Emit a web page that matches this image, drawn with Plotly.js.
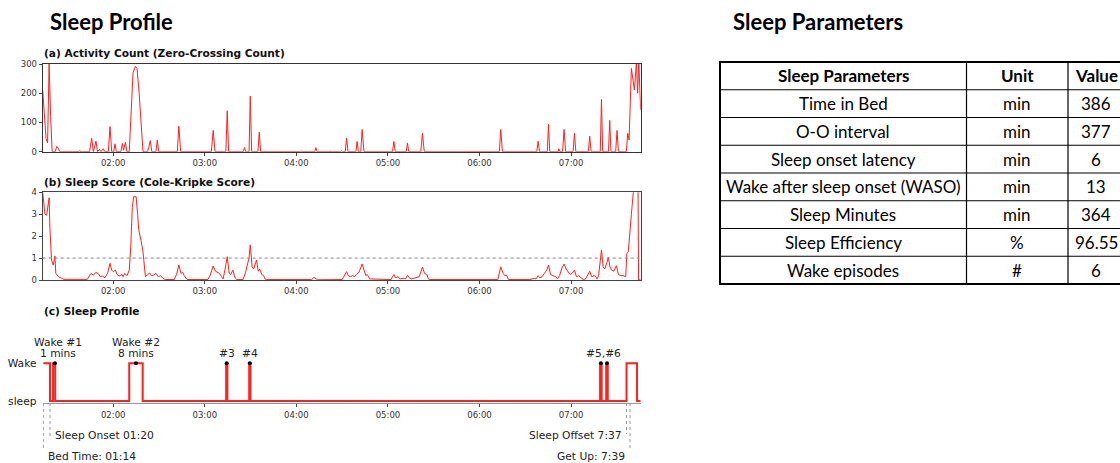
<!DOCTYPE html>
<html>
<head>
<meta charset="utf-8">
<script src="https://cdn.plot.ly/plotly-3.0.1.min.js"></script>
<style>
html,body{margin:0;padding:0;background:#fff;overflow:hidden;width:1120px;height:463px;}
#chart{width:1150px;height:463px;}
</style>
</head>
<body>
<div id="chart"></div>
<script>
// ---------- data (times in minutes after midnight) ----------
const activityTimes = [73.8,75,76,77,78,79,80, 82,83,84,85, 97,98,99,
  104.5,105.9,107,108.7,109.7,111,112,113.5,114.5,116.8,117.9,119,120.3,121.2,122,
  125,126,126.8,128,129, 130.5,133,134.5,135.6,137,139.5,
  142.5,143.3,144.3,145.3, 148,148.9,149.8, 162,163,164.2, 184.3,185.5,186.7,
  193.8,194.7,195.6, 205.2,206,206.8, 209,209.8,210.7, 214.8,215.7,216.6,
  242.8,243.5,244.2, 252,252.8,253.6, 261.3,262,262.7, 269,269.6,270.2,
  272,272.9,273.8, 279,279.8,280.6, 282.2,283.1,284.3, 303,303.9,304.8,
  312,312.8,313.6, 321.5,322.6,323.8, 373,373.9,375, 397.5,398.4,399.3,
  404.4,405.2,406, 411.5,412,412.6, 414.4,415.4,416.4, 421.3,422.2,423.1,
  431.3,432.2,433.1, 439.1,439.9,440.7, 444.5,445.3,446.1, 449.2,450.1,451,
  456.2,457.1,458,459.5,461.5,462.8,463.6,464.3,465.6];
const activityCounts = [210,120,45,30,300,120,0, 0,18,12,0, 0,3,0,
  0,46,0,36,0,8,0,10,0,0,86,0,0,27,0,
  0,28,5,32,0, 0,270,292,285,200,0,
  0,15,38,0, 0,40,0, 0,87,0, 0,73,0,
  0,140,0, 0,14,0, 0,190,0, 0,67,0,
  0,2,0, 0,14,0, 0,2,0, 0,3,0,
  0,46,0, 0,35,0, 0,76,0, 0,35,0,
  0,30,0, 0,63,0, 0,76,0, 0,36,0,
  0,94,0, 0,10,0, 0,76,0, 0,63,0,
  0,53,0, 0,179,0, 0,107,0, 0,73,0,
  0,63,40,285,211,310,200,310,143];

const scoreTimes = [73.8,75.3,76.4,77.5,78,78.5,79.6,80.7,81.8,82.4,84.3,86,87.6,
  103,104,105.4,107,108.6,110.4,111.5,113,114.5,116.3,117.9,119,120,121.5,122.5,124,125.7,126.5,127.5,129.1,
  130.5,131.5,132.5,133.4,135,136,136.7,138.2,139.5,141.1,142.5,143.9,145,146.5,148,149.5,151,152.5,154,
  160,161.5,163,164.5,165.5,166.5,168,169,
  182,183.5,185.5,187,188,189.6,191,192,193.3,194.7,196,197,198.4,199.8,201,
  205,206.5,207.5,209,209.8,211,212,213.9,215,216,217.3,218.5,219.5,220.6,
  250,251.5,253,254,
  270,271.5,272.9,274,275.5,277,278,279.4,281,283.1,284.5,285.5,286.5,288,
  302,303.9,305,306.5,308,310,311.5,312.8,314,315.5,320.5,322.6,324,325.5,326.5,327.5,
  372,373.9,375.5,376.5,377.7,379,
  393,396,397,398.4,399.5,401,402.5,404,405.2,406.5,408,410,411,412.5,414,415.4,416.8,418,419.3,420.5,
  422.2,423.5,425,426.5,428,429.5,431,432.2,433.5,435,436.2,437,438,439.9,441,442,443.5,444.4,445.5,
  446.5,448,449.7,451,452.5,454,455.8,456.5,457.5,459.5,460.5,462,463.8,464.2,465.6];
const scoreValues = [4.0,3.0,2.95,3.6,3.75,2.4,0.9,0.68,1.1,0.3,0.15,0.08,0.03,
  0.03,0.15,0.3,0.22,0.35,0.28,0.15,0.18,0.1,0.3,0.76,0.45,0.38,0.45,0.25,0.18,0.25,0.15,0.3,0.2,
  0.45,1.5,3.3,3.8,3.8,3.0,2.3,1.8,1.3,0.15,0.25,0.32,0.2,0.22,0.3,0.15,0.2,0.08,0.02,
  0.02,0.25,0.68,0.3,0.35,0.2,0.05,0.02,
  0.02,0.2,0.64,0.4,0.35,0.3,0.15,0.05,0.5,1.06,0.3,0.25,0.45,0.1,0.02,
  0.02,0.3,0.55,1.0,1.6,0.6,0.5,0.91,0.4,0.5,0.25,0.2,0.05,0.02,
  0.02,0.12,0.05,0.01,
  0.02,0.2,0.38,0.2,0.15,0.2,0.15,0.25,0.35,0.73,0.4,0.2,0.25,0.05,
  0.02,0.25,0.1,0.15,0.05,0.08,0.05,0.22,0.1,0.05,0.15,0.58,0.3,0.25,0.05,0.02,
  0.02,0.6,0.3,0.2,0.22,0.02,
  0.02,0.08,0.05,0.2,0.1,0.15,0.3,0.45,0.68,0.25,0.2,0.15,0.05,0.2,0.55,0.73,0.5,0.4,0.25,0.3,
  0.45,0.15,0.2,0.1,0.02,0.05,0.25,0.4,0.15,0.2,0.15,0.05,0.2,1.37,0.6,0.5,0.8,1.03,0.6,
  0.45,0.4,0.65,0.25,0.2,0.2,0.15,1.2,1.3,3.0,4.0,5.0,5.0,0,0];
const scoreThreshold = 1;

// sleep profile: state changes (1 = Wake, 0 = sleep)
const profileTimes  = [74.2,78.6,80.6,82.0,130.5,139.3,194.0,194.8,209.1,209.9,439.0,440.0,443.0,444.0,456.3,463.2,465.6];
const profileStates = [1,0,1,0,1,0,1,0,1,0,1,0,1,0,1,0,0];
const wakeDotTimes = [81.8,134.9,194.4,209.5,439.5,443.5];
const wakeLabelTimes = [83.5,134.9,194.4,209.5,441.0];
const wakeLabelTop = ["Wake #1","Wake #2","","",""];
const wakeLabelBottom = ["1 mins","8 mins","#3","#4","#5,#6"];
const eventTimes  = [74.2,78.6,456.3,458.6];
const eventLabels = ["Bed Time: 01:14","Sleep Onset 01:20","Sleep Offset 7:37","Get Up: 7:39"];

const paramNames  = ["Time in Bed","O-O interval","Sleep onset latency","Wake after sleep onset (WASO)","Sleep Minutes","Sleep Efficiency","Wake episodes"];
const paramUnits  = ["min","min","min","min","min","%","#"];
const paramValues = ["386","377","6","13","364","96.55","6"];
const tableHeader = ["Sleep Parameters","Unit","Value"];

// ---------- helpers ----------
const W = 1150, H = 463;
const px = x => x / W;
const py = y => 1 - y / H;
const pad = n => String(n).padStart(2, '0');
function ts(m) {
  const s = Math.round(m * 60);
  return '2024-01-01 ' + pad(Math.floor(s / 3600)) + ':' + pad(Math.floor((s % 3600) / 60)) + ':' + pad(s % 60);
}
const FONT = 'DejaVu Sans';
const RED = '#ff2020';

const xCommon = {
  type: 'date', range: [ts(73.8), ts(465.6)], tickformat: '%H:%M',
  dtick: 3600000, tick0: '2024-01-01 02:00:00', ticks: 'outside', ticklen: 3,
  tickcolor: '#444', tickfont: {family: FONT, size: 8.5, color: '#333'},
  showgrid: false, zeroline: false
};

const traces = [
  {x: activityTimes.map(ts), y: activityCounts, xaxis: 'x', yaxis: 'y', type: 'scatter', mode: 'lines',
   line: {color: RED, width: 1}},
  {x: scoreTimes.map(ts), y: scoreValues, xaxis: 'x2', yaxis: 'y2', type: 'scatter', mode: 'lines',
   line: {color: RED, width: 1}},
  {x: profileTimes.map(ts), y: profileStates, xaxis: 'x3', yaxis: 'y3', type: 'scatter', mode: 'lines',
   line: {color: RED, width: 2, shape: 'hv'}},
  {x: wakeDotTimes.map(ts), y: wakeDotTimes.map(() => 1), xaxis: 'x3', yaxis: 'y3', type: 'scatter', mode: 'markers',
   marker: {color: '#000', size: 4}, cliponaxis: false}
];

const annotations = [
  {text: '<b>Sleep Profile</b>', x: px(48), y: py(21), xref: 'paper', yref: 'paper', xanchor: 'left', yanchor: 'middle',
   showarrow: false, font: {family: 'Lato', size: 22, color: '#000'}},
  {text: '<b>Sleep Parameters</b>', x: px(731), y: py(21), xref: 'paper', yref: 'paper', xanchor: 'left', yanchor: 'middle',
   showarrow: false, font: {family: 'Lato', size: 22, color: '#000'}},
  {text: '<b>(a) Activity Count (Zero-Crossing Count)</b>', x: px(42), y: py(53), xref: 'paper', yref: 'paper',
   xanchor: 'left', yanchor: 'middle', showarrow: false, font: {family: FONT, size: 10.6, color: '#111'}},
  {text: '<b>(b) Sleep Score (Cole-Kripke Score)</b>', x: px(42), y: py(182), xref: 'paper', yref: 'paper',
   xanchor: 'left', yanchor: 'middle', showarrow: false, font: {family: FONT, size: 10.6, color: '#111'}},
  {text: '<b>(c) Sleep Profile</b>', x: px(42), y: py(311), xref: 'paper', yref: 'paper',
   xanchor: 'left', yanchor: 'middle', showarrow: false, font: {family: FONT, size: 10.6, color: '#111'}}
];
wakeLabelTimes.forEach((t, i) => {
  if (wakeLabelTop[i]) annotations.push({text: wakeLabelTop[i], x: ts(t), y: 1, xref: 'x3', yref: 'y3',
    yanchor: 'middle', yshift: 21, showarrow: false, font: {family: FONT, size: 10.7, color: '#222'}});
  annotations.push({text: wakeLabelBottom[i], x: ts(t), y: 1, xref: 'x3', yref: 'y3',
    yanchor: 'middle', yshift: 10, showarrow: false, font: {family: FONT, size: 10.7, color: '#222'}});
});
const eventLabelY = [456, 435.5, 435.5, 456];
const eventLineEnd = [451, 439, 434, 451];
const shapes = [
  {type: 'line', xref: 'paper', yref: 'y2', x0: px(42.7), x1: px(640.7), y0: scoreThreshold, y1: scoreThreshold,
   line: {color: '#888', width: 1, dash: 'dot'}}
];
eventTimes.forEach((t, i) => {
  const right = i >= 2;
  annotations.push({text: eventLabels[i], x: ts(t), y: py(eventLabelY[i]), xref: 'x3', yref: 'paper',
    xanchor: right ? 'right' : 'left', yanchor: 'middle', xshift: right ? -4 : 4, showarrow: false,
    borderpad: 0, font: {family: FONT, size: 10.7, color: '#222'}});
  shapes.push({type: 'line', xref: 'x3', yref: 'paper', x0: ts(t), x1: ts(t), y0: py(403), y1: py(eventLineEnd[i]),
    line: {color: '#999', width: 1, dash: 'dot'}});
});

// ---------- table (grid + text built from the arrays) ----------
const colEdges = [720, 966.5, 1068, 1124];
const tableTop = 62, rowH = 27.75;
const tableRows = [tableHeader].concat(paramNames.map((n, i) => [n, paramUnits[i], paramValues[i]]));
const tableBottom = tableTop + rowH * tableRows.length;
for (let r = 1; r < tableRows.length; r++) {
  shapes.push({type: 'line', xref: 'paper', yref: 'paper', x0: px(colEdges[0]), x1: px(colEdges[3]),
    y0: py(tableTop + r * rowH), y1: py(tableTop + r * rowH), line: {color: '#000', width: 1.2}});
}
for (let c = 1; c < colEdges.length - 1; c++) {
  shapes.push({type: 'line', xref: 'paper', yref: 'paper', x0: px(colEdges[c]), x1: px(colEdges[c]),
    y0: py(tableTop), y1: py(tableBottom), line: {color: '#000', width: 1.2}});
}
shapes.push({type: 'rect', xref: 'paper', yref: 'paper', x0: px(colEdges[0]), x1: px(colEdges[3]),
  y0: py(tableBottom), y1: py(tableTop), line: {color: '#000', width: 2}});
tableRows.forEach((row, r) => {
  row.forEach((txt, c) => {
    annotations.push({text: r === 0 ? '<b>' + txt + '</b>' : txt,
      x: px((colEdges[c] + colEdges[c + 1]) / 2), y: py(tableTop + (r + 0.5) * rowH),
      xref: 'paper', yref: 'paper', xanchor: 'center', yanchor: 'middle', showarrow: false,
      borderpad: 0, font: {family: 'Lato', size: 17, color: '#000'}});
  });
});

const layout = {
  width: W, height: H, margin: {l: 0, r: 0, t: 0, b: 0},
  paper_bgcolor: '#fff', plot_bgcolor: '#fff', showlegend: false, hovermode: false,
  xaxis: Object.assign({}, xCommon, {domain: [px(42.7), px(640.7)], anchor: 'y', showline: true, mirror: true, linecolor: '#333', linewidth: 1}),
  yaxis: {domain: [py(151.7), py(64)], anchor: 'x', range: [0, 300], tickvals: [0, 100, 200, 300],
          ticks: 'outside', ticklen: 3, tickcolor: '#444', tickfont: {family: FONT, size: 8.5, color: '#333'},
          showline: true, mirror: true, linecolor: '#333', linewidth: 1, showgrid: false, zeroline: false},
  xaxis2: Object.assign({}, xCommon, {domain: [px(42.7), px(640.7)], anchor: 'y2', showline: true, mirror: true, linecolor: '#444', linewidth: 1}),
  yaxis2: {domain: [py(280), py(192.3)], anchor: 'x2', range: [0, 4], tickvals: [0, 1, 2, 3, 4],
           ticks: 'outside', ticklen: 3, tickcolor: '#444', tickfont: {family: FONT, size: 8.5, color: '#333'},
           showline: true, mirror: true, linecolor: '#444', linewidth: 1, showgrid: false, zeroline: false},
  xaxis3: Object.assign({}, xCommon, {domain: [px(42.7), px(640.7)], anchor: 'y3', showline: true, linecolor: '#999', linewidth: 1.5}),
  yaxis3: {domain: [py(402.9), py(340.7)], anchor: 'x3', range: [-0.05, 1.6], tickvals: [0, 1], ticktext: ['sleep', 'Wake'],
           ticks: 'outside', ticklen: 3, tickcolor: 'rgba(0,0,0,0)', showline: false, showgrid: false, zeroline: false,
           tickfont: {family: FONT, size: 10.7, color: '#222'}},
  annotations: annotations,
  shapes: shapes
};

Plotly.newPlot('chart', traces, layout, {staticPlot: true, displayModeBar: false});
</script>
</body>
</html>
